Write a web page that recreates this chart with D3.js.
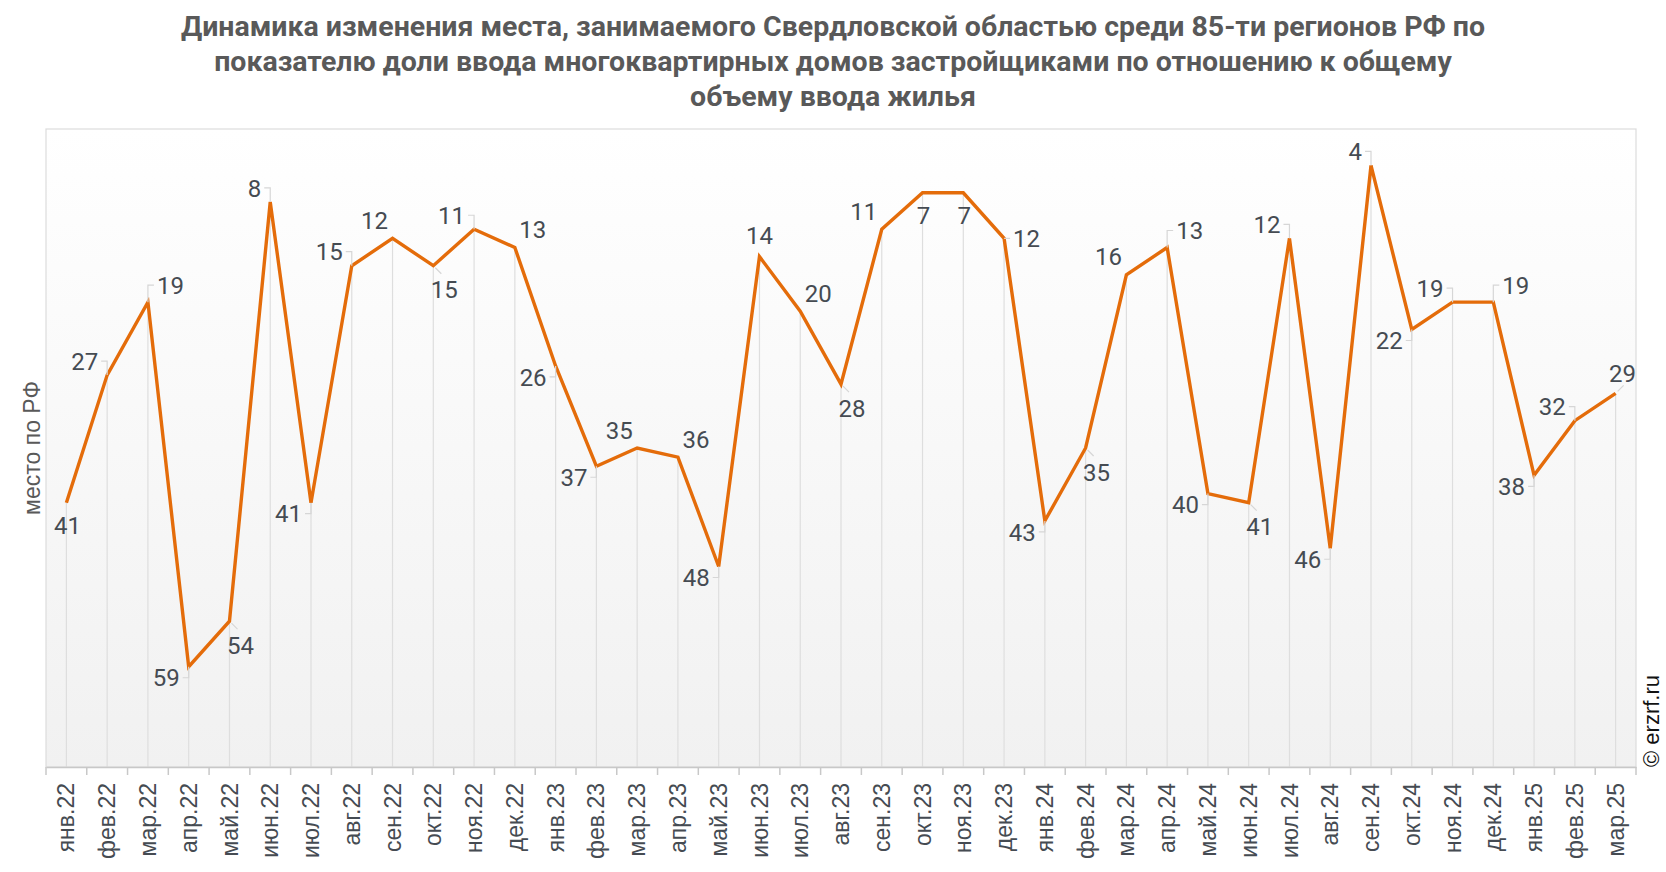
<!DOCTYPE html>
<html>
<head>
<meta charset="utf-8">
<script src="https://cdn.jsdelivr.net/npm/d3@7"></script>
<style>
    body { margin: 0; background: #fff; }
    svg { display: block; }
</style>
</head>
<body>
<svg id="chart" width="1666" height="872"></svg>
<script>
// Data
const months = ["янв.22", "фев.22", "мар.22", "апр.22", "май.22", "июн.22", "июл.22", "авг.22", "сен.22", "окт.22", "ноя.22", "дек.22",
    "янв.23", "фев.23", "мар.23", "апр.23", "май.23", "июн.23", "июл.23", "авг.23", "сен.23", "окт.23", "ноя.23", "дек.23",
    "янв.24", "фев.24", "мар.24", "апр.24", "май.24", "июн.24", "июл.24", "авг.24", "сен.24", "окт.24", "ноя.24", "дек.24",
    "янв.25", "фев.25", "мар.25"];
const places = [41, 27, 19, 59, 54, 8, 41, 15, 12, 15, 11, 13,
    26, 37, 35, 36, 48, 14, 20, 28, 11, 7, 7, 12,
    43, 35, 16, 13, 40, 41, 12, 46, 4, 22, 19, 19,
    38, 32, 29];
// where each value label sits relative to its point
const labelSide = ["d", "tl", "tr", "bl", "br", "tl", "bl", "tl", "ul", "br", "tl", "ur",
    "bl", "bl", "ul", "ur", "bl", "u", "ur", "br", "ul", "d", "d", "r",
    "bl", "br", "ul", "tr", "bl", "br", "tl", "bl", "tl", "bl", "tl", "tr",
    "bl", "tl", "ud"];
const titleLines = [
    "Динамика изменения места, занимаемого Свердловской областью среди 85-ти регионов РФ по",
    "показателю доли ввода многоквартирных домов застройщиками по отношению к общему",
    "объему ввода жилья"
];

// Config
const margin = { top: 129, right: 30, bottom: 105, left: 46 };
const W = 1666, H = 872;
const width = W - margin.left - margin.right;
const height = H - margin.top - margin.bottom;
const lineColor = "#e46c0a";
const textColor = "#454b52";

const svg = d3.select("#chart");

// Title
svg.append("g").selectAll("text")
    .data(titleLines)
    .enter().append("text")
    .attr("x", W / 2)
    .attr("y", (d, i) => 36 + i * 35)
    .attr("text-anchor", "middle")
    .style("font-family", "Roboto")
    .style("font-weight", "bold")
    .style("font-size", "28.5px")
    .style("fill", "#595959")
    .text(d => d);

// Background gradient
const grad = svg.append("defs").append("linearGradient")
    .attr("id", "bg").attr("x1", 0).attr("y1", 0).attr("x2", 0).attr("y2", 1);
grad.append("stop").attr("offset", "0%").attr("stop-color", "#ffffff");
grad.append("stop").attr("offset", "100%").attr("stop-color", "#f1f1f1");

const g = svg.append("g")
    .attr("transform", `translate(${margin.left},${margin.top})`);

g.append("rect")
    .attr("width", width)
    .attr("height", height)
    .attr("fill", "url(#bg)")
    .attr("stroke", "#dcdcdc")
    .attr("stroke-width", 1.2);

// Scales
const x = d3.scaleBand().domain(months).range([0, width]);
const y = d3.scaleLinear().domain([0, 70]).range([0, height]);
const cx = d => x(d) + x.bandwidth() / 2;

const points = months.map((m, i) => ({ m: m, v: places[i], side: labelSide[i] }));

// Drop lines from the axis up to each point
g.append("g").selectAll("line")
    .data(points)
    .enter().append("line")
    .attr("x1", d => cx(d.m))
    .attr("x2", d => cx(d.m))
    .attr("y1", height)
    .attr("y2", d => y(d.v))
    .attr("stroke", "#dedede")
    .attr("stroke-width", 1.2);

// X axis
const xAxis = g.append("g")
    .attr("transform", `translate(0,${height})`)
    .call(d3.axisBottom(x).tickSize(0).tickPadding(17));
xAxis.select(".domain").attr("stroke", "#c8c8c8").attr("stroke-width", 1.5);
xAxis.selectAll("text")
    .attr("transform", "rotate(-90)")
    .attr("x", -16)
    .attr("y", 0)
    .attr("dy", "0.35em")
    .attr("text-anchor", "end")
    .style("font-family", "Liberation Sans, Arial")
    .style("font-size", "23px")
    .style("fill", textColor);
// ticks between the months
g.append("g").selectAll("line")
    .data(d3.range(months.length + 1))
    .enter().append("line")
    .attr("x1", i => i * x.step())
    .attr("x2", i => i * x.step())
    .attr("y1", height)
    .attr("y2", height + 8)
    .attr("stroke", "#c8c8c8")
    .attr("stroke-width", 1.5);

// Line
const line = d3.line()
    .x(d => cx(d.m))
    .y(d => y(d.v));

g.append("path")
    .datum(points)
    .attr("fill", "none")
    .attr("stroke", lineColor)
    .attr("stroke-width", 3.4)
    .attr("stroke-linejoin", "miter")
    .attr("d", line);

// Value labels
const offsets = {
    tl: { dx: -9, dy: -14, anchor: "end", lead: true },
    tr: { dx: 9, dy: -17, anchor: "start", lead: true },
    bl: { dx: -9, dy: 11, anchor: "end", lead: true },
    r: { dx: 9, dy: 0, anchor: "start", lead: true },
    br: { dx: 11, dy: 24, anchor: "middle", diag: 1 },
    ud: { dx: 7, dy: -20, anchor: "middle", diag: -1 },
    ul: { dx: -18, dy: -18, anchor: "middle" },
    ur: { dx: 18, dy: -18, anchor: "middle" },
    u: { dx: 0, dy: -21, anchor: "middle" },
    d: { dx: 1, dy: 23, anchor: "middle" }
};

const labels = g.append("g");
points.forEach(p => {
    const o = offsets[p.side];
    const px = cx(p.m), py = y(p.v);
    if (o.lead) {
        const sx = o.dx < 0 ? -6 : 6;
        labels.append("path")
            .attr("d", `M${px},${py}V${py + o.dy}h${sx}`)
            .attr("fill", "none")
            .attr("stroke", "#d6d6d6")
            .attr("stroke-width", 1.2);
    }
    if (o.diag) {
        labels.append("line")
            .attr("x1", px + 2).attr("y1", py + 2 * o.diag)
            .attr("x2", px + 8).attr("y2", py + 8 * o.diag)
            .attr("stroke", "#d6d6d6")
            .attr("stroke-width", 1.2);
    }
    labels.append("text")
        .attr("x", px + o.dx)
        .attr("y", py + o.dy)
        .attr("dy", "0.36em")
        .attr("text-anchor", o.anchor)
        .style("font-family", "Roboto")
        .style("font-size", "24px")
        .style("fill", textColor)
        .text(p.v);
});

// Y axis title
svg.append("text")
    .attr("transform", `translate(40,${margin.top + height / 2}) rotate(-90)`)
    .attr("text-anchor", "middle")
    .style("font-family", "Liberation Sans, Arial")
    .style("font-size", "23px")
    .style("fill", "#595959")
    .text("место по РФ");

// Copyright
svg.append("text")
    .attr("transform", `translate(1659,${margin.top + height}) rotate(-90)`)
    .attr("text-anchor", "start")
    .style("font-family", "Liberation Sans, Arial")
    .style("font-size", "22px")
    .style("fill", "#111")
    .text("© erzrf.ru");
</script>
</body>
</html>
